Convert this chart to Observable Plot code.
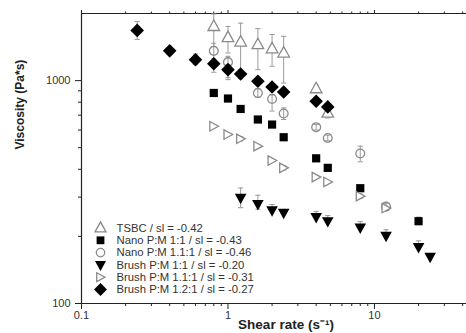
<!DOCTYPE html>
<html>
<head>
<meta charset="utf-8">
<script src="https://cdn.jsdelivr.net/npm/d3@7"></script>
<script src="https://cdn.jsdelivr.net/npm/@observablehq/plot@0.6"></script>
<style>
  html, body { margin: 0; padding: 0; background: #fff; }
  #chart { width: 466px; height: 333px; overflow: hidden; }
</style>
</head>
<body>
<div id="chart"></div>
<script>
// ---- data ----
const legendLabels = [
  "TSBC / sl = -0.42",
  "Nano P:M 1:1 / sl = -0.43",
  "Nano P:M 1.1:1 / sl = -0.46",
  "Brush P:M 1:1 / sl = -0.20",
  "Brush P:M 1.1:1 / sl = -0.31",
  "Brush P:M 1.2:1 / sl = -0.27"
];

const tsbcShear = [0.8, 1.0, 1.22, 1.6, 2.0, 2.4, 4.0, 4.8];
const tsbcVisc  = [1750, 1560, 1490, 1450, 1390, 1330, 920, 715];
const tsbcLo    = [1420, 1330, 1100, 1120, 1160, 975, 885, 680];
const tsbcHi    = [1990, 1750, 1810, 1710, 1610, 1580, 955, 750];

const nano11Shear = [0.8, 1.0, 1.22, 1.6, 2.0, 2.4, 4.0, 4.8, 8.0, 20];
const nano11Visc  = [880, 831, 746, 669, 635, 557, 448, 406, 329, 234];
const nano11Lo    = [null, null, null, null, null, null, null, null, null, 226];
const nano11Hi    = [null, null, null, null, null, null, null, null, null, 244];

const nano111Shear = [0.8, 1.0, 1.6, 2.0, 2.4, 4.0, 4.8, 8.0, 12];
const nano111Visc  = [1360, 1210, 880, 827, 712, 618, 553, 471, 272];
const nano111Lo    = [1220, 1030, 840, 730, 669, 600, 537, 432, 262];
const nano111Hi    = [1470, 1285, 920, 866, 754, 636, 569, 508, 282];

const brush11Shear = [1.22, 1.6, 2.0, 2.4, 4.0, 4.8, 8.0, 12, 20, 24];
const brush11Visc  = [298, 279, 262, 255, 244, 234, 219, 201, 179, 162];
const brush11Lo    = [269, 265, null, null, null, null, null, null, null, null];
const brush11Hi    = [330, 306, 278, null, 259, 248, 233, 214, 191, null];

const brush111Shear = [0.8, 1.0, 1.22, 1.6, 2.0, 2.4, 4.0, 4.8, 8.0, 12];
const brush111Visc  = [624, 573, 548, 508, 438, 406, 369, 351, 303, 268];
const brush111Lo    = [null, null, 536, null, null, 397, null, null, 296, null];
const brush111Hi    = [null, null, 560, null, null, 415, null, null, 310, null];

const brush121Shear = [0.24, 0.4, 0.6, 0.8, 1.0, 1.22, 1.6, 2.0, 2.4, 4.0, 4.8];
const brush121Visc  = [1680, 1360, 1240, 1190, 1120, 1070, 993, 936, 889, 808, 762];
const brush121Lo    = [1530, null, 1180, 1090, 1010, 1020, null, null, null, null, null];
const brush121Hi    = [1840, null, 1315, 1250, 1180, 1120, null, null, null, null, null];

const xMajorTicks = [0.1, 1, 10];
const xMinorTicks = [0.2, 0.3, 0.4, 0.5, 0.6, 0.7, 0.8, 0.9, 2, 3, 4, 5, 6, 7, 8, 9, 20, 30, 40];
const yMajorTicks = [100, 1000];
const yMinorTicks = [200, 300, 400, 500, 600, 700, 800, 900];

// ---- symbols ----
const poly = pts => ({
  draw(ctx, size) {
    const r = Math.sqrt(size / Math.PI);
    ctx.moveTo(pts[0][0] * r, pts[0][1] * r);
    for (let i = 1; i < pts.length; ++i) ctx.lineTo(pts[i][0] * r, pts[i][1] * r);
    ctx.closePath();
  }
});
const upTri = poly([[0, -1.1], [1, 0.7], [-1, 0.7]]);
const downTri = poly([[-1, -0.7], [1, -0.7], [0, 1.1]]);
const rightTri = poly([[-0.85, -1], [1, 0], [-0.85, 1]]);
const diamond = poly([[0, -1], [1, 0], [0, 1], [-1, 0]]);
const square = poly([[-1, -1], [1, -1], [1, 1], [-1, 1]]);
const circle = {
  draw(ctx, size) {
    const r = Math.sqrt(size / Math.PI);
    ctx.moveTo(r, 0);
    ctx.arc(0, 0, r, 0, 2 * Math.PI);
  }
};
const cap = {
  draw(ctx, size) {
    const r = Math.sqrt(size / Math.PI);
    ctx.moveTo(-r, 0);
    ctx.lineTo(r, 0);
  }
};

const grey = "#8a8a8a";
const series = [
  {x: tsbcShear, y: tsbcVisc, lo: tsbcLo, hi: tsbcHi, symbol: upTri, r: 5.8, fill: "white", stroke: grey},
  {x: nano11Shear, y: nano11Visc, lo: nano11Lo, hi: nano11Hi, symbol: square, r: 4.1, fill: "black", stroke: "none"},
  {x: nano111Shear, y: nano111Visc, lo: nano111Lo, hi: nano111Hi, symbol: circle, r: 4.4, fill: "none", stroke: grey},
  {x: brush11Shear, y: brush11Visc, lo: brush11Lo, hi: brush11Hi, symbol: downTri, r: 5.8, fill: "black", stroke: "none"},
  {x: brush111Shear, y: brush111Visc, lo: brush111Lo, hi: brush111Hi, symbol: rightTri, r: 4.7, fill: "white", stroke: grey},
  {x: brush121Shear, y: brush121Visc, lo: brush121Lo, hi: brush121Hi, symbol: diamond, r: 6.8, fill: "black", stroke: "none"}
];

const toRows = s => s.x.map((x, i) => ({x, y: s.y[i], lo: s.lo[i] ?? s.y[i], hi: s.hi[i] ?? s.y[i], has: s.lo[i] != null || s.hi[i] != null}));

const marks = [];
// frame lines (top, left, bottom)
marks.push(Plot.ruleY([2000], {stroke: "#222", strokeWidth: 1.2}));
marks.push(Plot.ruleY([100], {stroke: "#222", strokeWidth: 1.2}));
marks.push(Plot.ruleX([0.1], {stroke: "#222", strokeWidth: 1.2}));

// axes
const axisFont = {fontSize: 11, fill: "#333"};
marks.push(Plot.axisX({ticks: xMajorTicks, tickSize: 6, tickPadding: 2, tickFormat: d => String(d), label: null, ...axisFont, stroke: "#222"}));
marks.push(Plot.axisX({ticks: xMinorTicks, tickSize: 3, tickFormat: () => "", label: null, stroke: "#222"}));
marks.push(Plot.axisX({anchor: "top", ticks: xMajorTicks, tickSize: 4, tickFormat: () => "", label: null, stroke: "#222"}));
marks.push(Plot.axisX({anchor: "top", ticks: xMinorTicks, tickSize: 2.5, tickFormat: () => "", label: null, stroke: "#222"}));
marks.push(Plot.axisY({ticks: yMajorTicks, tickSize: 6, tickPadding: 5, tickFormat: d => String(d), label: null, ...axisFont, stroke: "#222"}));
marks.push(Plot.axisY({ticks: yMinorTicks, tickSize: 3, tickFormat: () => "", label: null, stroke: "#222"}));

// error bars
for (const s of series) {
  const rows = toRows(s).filter(d => d.has);
  marks.push(Plot.ruleX(rows, {x: "x", y1: "lo", y2: "hi", stroke: "#9a9a9a", strokeWidth: 1}));
  marks.push(Plot.dot(rows, {x: "x", y: "hi", symbol: cap, r: 2.6, fill: "none", stroke: "#9a9a9a", strokeWidth: 1}));
  marks.push(Plot.dot(rows, {x: "x", y: "lo", symbol: cap, r: 2.6, fill: "none", stroke: "#9a9a9a", strokeWidth: 1}));
}
// markers
for (const s of series) {
  marks.push(Plot.dot(toRows(s), {x: "x", y: "y", symbol: s.symbol, r: s.r, fill: s.fill, stroke: s.stroke, strokeWidth: 1.3}));
}

// legend (inside frame, lower left)
series.forEach((s, i) => {
  const dy = -14 - (5 - i) * 12.3;
  marks.push(Plot.dot([legendLabels[i]], {frameAnchor: "bottom-left", dx: 19, dy, symbol: s.symbol, r: s.r * 0.95, fill: s.fill, stroke: s.stroke, strokeWidth: 1.3}));
  marks.push(Plot.text([legendLabels[i]], {frameAnchor: "bottom-left", dx: 35, dy, text: d => d, textAnchor: "start", lineAnchor: "middle", fontSize: 11.3, fill: "#333"}));
});

// axis titles
marks.push(Plot.text(["Viscosity (Pa*s)"], {frameAnchor: "left", dx: -61, dy: -9, rotate: -90, text: d => d, fontSize: 12, fontWeight: "bold", fill: "#222", lineAnchor: "middle"}));
marks.push(Plot.text(["Shear rate (s\u207B\u00B9)"], {frameAnchor: "bottom", dx: 12, dy: 21, text: d => d, fontSize: 13.5, fontWeight: "bold", fill: "#222", lineAnchor: "middle"}));

const chart = Plot.plot({
  width: 466,
  height: 333,
  marginLeft: 81,
  marginTop: 13,
  marginBottom: 30,
  marginRight: 0,
  x: {type: "log", domain: [0.1, 42.5]},
  y: {type: "log", domain: [100, 2000]},
  style: {fontFamily: "'Liberation Sans', Arial, sans-serif", background: "white", overflow: "visible"},
  marks
});
document.getElementById("chart").appendChild(chart);
</script>
</body>
</html>
